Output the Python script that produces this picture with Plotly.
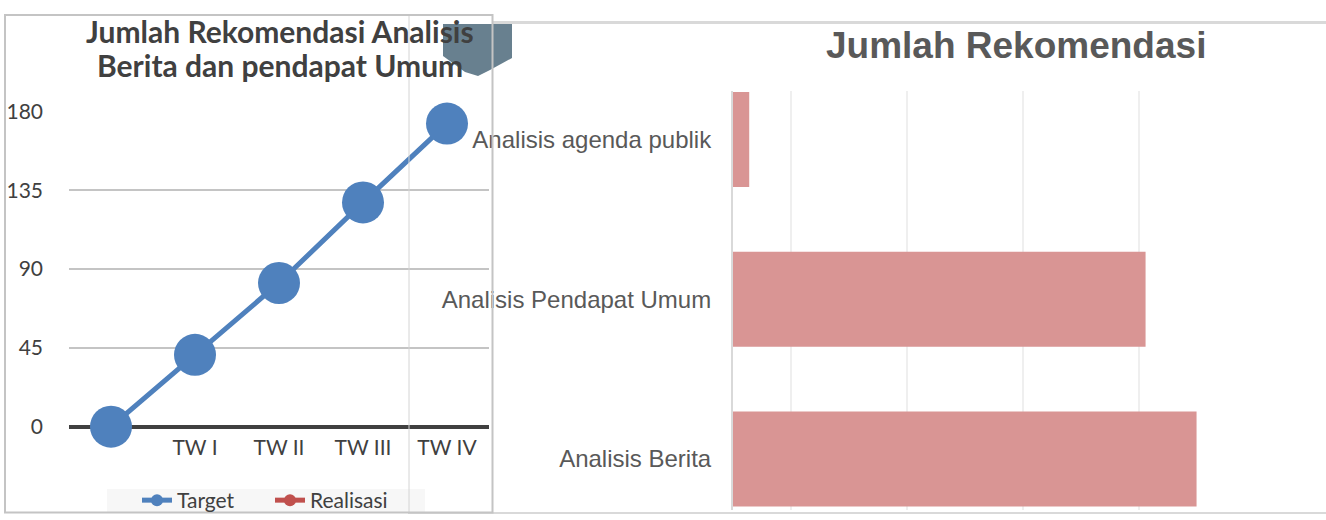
import plotly.graph_objects as go

W, H = 1326, 520

# ---- data ----
quarters = ["", "TW I", "TW II", "TW III", "TW IV"]
target = [0, 41, 82, 128, 173]
realisasi = [None, None, None, None, None]

bar_categories = ["Analisis Berita", "Analisis Pendapat Umum", "Analisis agenda publik"]
bar_values = [40.0, 35.6, 1.4]

left_title_lines = ["Jumlah Rekomendasi Analisis", "Berita dan pendapat Umum"]
right_title = "Jumlah Rekomendasi"
y_ticks = [0, 45, 90, 135, 180]


def px(x):
    return x / W


def py(y):
    return 1 - y / H


fig = go.Figure()

fig.add_trace(go.Scatter(
    x=list(range(len(quarters))), y=target, name="Target",
    mode="lines+markers", xaxis="x", yaxis="y",
    line=dict(color="#4F81BD", width=5),
    marker=dict(color="#4F81BD", size=42),
    cliponaxis=False, legend="legend",
))
fig.add_trace(go.Scatter(
    x=list(range(len(quarters))), y=realisasi, name="Realisasi",
    mode="lines+markers", xaxis="x", yaxis="y",
    line=dict(color="#C0504D", width=5),
    marker=dict(color="#C0504D", size=42),
    cliponaxis=False, legend="legend",
))

fig.add_trace(go.Bar(
    x=bar_values, y=list(range(len(bar_categories))), orientation="h",
    xaxis="x2", yaxis="y2", marker=dict(color="#D99594", line=dict(width=0)),
    width=0.594, showlegend=False,
))

lato = "Lato, 'Open Sans', sans-serif"
arial = "'Liberation Sans', Arial, sans-serif"

fig.update_layout(
    width=W, height=H, autosize=False,
    margin=dict(l=0, r=0, t=0, b=0, pad=0, autoexpand=False),
    paper_bgcolor="white", plot_bgcolor="rgba(0,0,0,0)",
    showlegend=True,
    xaxis=dict(
        domain=[px(69), px(489)], range=[-0.5, len(quarters) - 0.5],
        tickvals=list(range(len(quarters))), ticktext=quarters,
        showgrid=False, zeroline=False, automargin=False,
        showline=False, ticks="",
        tickfont=dict(family=lato, size=21, color="#404040"),
        ticklabelstandoff=6,
        anchor="y", fixedrange=True,
    ),
    yaxis=dict(
        domain=[py(426.7), py(111.3)], range=[0, 180],
        tickvals=y_ticks, showgrid=True, gridcolor="#C4C4C4", gridwidth=2,
        zeroline=True, zerolinecolor="#404040", zerolinewidth=4, automargin=False,
        showline=False, ticks="",
        tickfont=dict(family=lato, size=21, color="#404040"),
        ticklabelstandoff=25,
        anchor="x", fixedrange=True,
    ),
    xaxis2=dict(
        domain=[px(733), px(1210)], range=[0, 41.16],
        tick0=5, dtick=10, showticklabels=False, ticks="",
        showgrid=True, gridcolor="#EFEFEF", gridwidth=2, automargin=False,
        zeroline=False, showline=False, anchor="y2", fixedrange=True,
    ),
    yaxis2=dict(
        domain=[py(510), py(91)], range=[-0.319, 2.303],
        tickvals=list(range(len(bar_categories))), ticktext=bar_categories,
        showgrid=False, zeroline=False, automargin=False,
        showline=True, linecolor="#D9D9D9", linewidth=2,
        ticks="", ticklabelstandoff=15,
        tickfont=dict(family=arial, size=24, color="#595959"),
        anchor="x2", fixedrange=True,
    ),
    legend=dict(
        orientation="h", x=px(137), xanchor="left", y=py(500.5), yanchor="middle",
        bgcolor="rgba(0,0,0,0)", font=dict(family=lato, size=21, color="#404040"),
        itemsizing="constant", itemwidth=30, itemclick=False, entrywidth=88,
    ),
)

shapes = [
    # legend background
    dict(type="rect", xref="paper", yref="paper", x0=px(107), x1=px(425), y0=py(512), y1=py(489),
         fillcolor="#F7F7F7", line=dict(width=0), layer="below"),
    # decorative shield
    dict(type="path", xref="paper", yref="paper",
         path=f"M {px(443)} {py(24)} L {px(512)} {py(24)} L {px(512)} {py(58)} L {px(490)} {py(70)} "
              f"L {px(478)} {py(76)} L {px(465)} {py(72)} L {px(443)} {py(56)} Z",
         fillcolor="#68808F", line=dict(width=0), layer="below"),
    # right chart frame top and bottom
    dict(type="line", xref="paper", yref="paper", x0=px(493), x1=1, y0=py(22.5), y1=py(22.5),
         line=dict(color="#D9D9D9", width=3), layer="above"),
    dict(type="line", xref="paper", yref="paper", x0=px(408), x1=1, y0=py(513), y1=py(513),
         line=dict(color="#D9D9D9", width=2), layer="above"),
    # inner vertical frame line
    dict(type="line", xref="paper", yref="paper", x0=px(409), x1=px(409), y0=py(15), y1=py(513),
         line=dict(color="#D4D4D4", width=1), layer="above"),
    # left chart border
    dict(type="rect", xref="paper", yref="paper", x0=px(5), x1=px(492.5), y0=py(512.5), y1=py(15),
         line=dict(color="#C4C4C4", width=2), fillcolor="rgba(0,0,0,0)", layer="above"),
]
fig.update_layout(shapes=shapes)

annotations = [
    dict(text=f"<b>{left_title_lines[0]}</b>", x=px(280), y=py(30.5), xref="paper", yref="paper",
         xanchor="center", yanchor="middle", showarrow=False,
         font=dict(family=lato, size=30, color="#404040")),
    dict(text=f"<b>{left_title_lines[1]}</b>", x=px(280), y=py(65), xref="paper", yref="paper",
         xanchor="center", yanchor="middle", showarrow=False,
         font=dict(family=lato, size=30, color="#404040")),
    dict(text=f"<b>{right_title}</b>", x=px(1016), y=py(45), xref="paper", yref="paper",
         xanchor="center", yanchor="middle", showarrow=False,
         font=dict(family=arial, size=37, color="#595959")),
]
fig.update_layout(annotations=annotations)

post = """
(function(){
  document.documentElement.style.margin='0';
  document.documentElement.style.padding='0';
  document.body.style.margin='0';
  document.body.style.padding='0';
  document.body.style.overflow='hidden';
  var gd = document.getElementById('{plot_id}');
  gd.style.position='fixed'; gd.style.left='0px'; gd.style.top='0px';
  gd.style.width='1326px'; gd.style.height='520px';
  if (gd.parentElement) { gd.parentElement.style.width='1326px'; gd.parentElement.style.height='520px'; }
  Plotly.relayout(gd, {width: 1326, height: 520});
})();
"""

fig.write_html("out.html", config={"responsive": False, "displayModeBar": False}, post_script=post)
